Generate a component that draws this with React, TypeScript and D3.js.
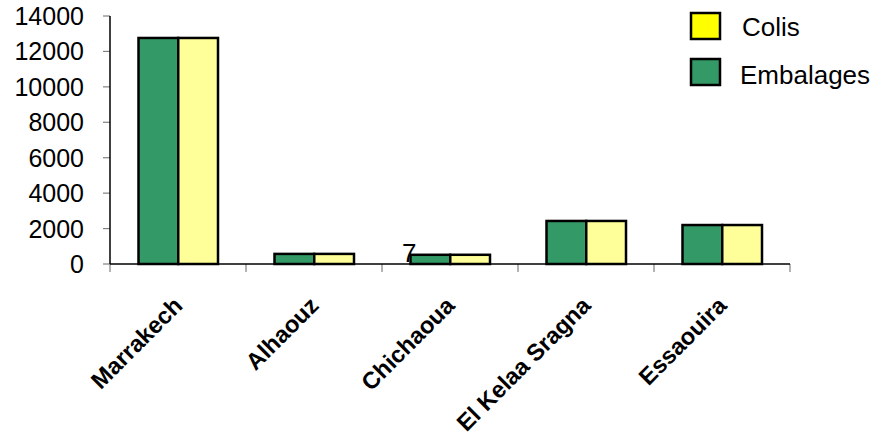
import React from "react";
import * as d3 from "d3";

const categories = ["Marrakech", "Alhaouz", "Chichaoua", "El Kelaa Sragna", "Essaouira"];
const embalages = [12760, 570, 520, 2430, 2200];
const colis = [12760, 570, 520, 2430, 2200];
const yTicks = [0, 2000, 4000, 6000, 8000, 10000, 12000, 14000];
const seriesNames = ["Embalages", "Colis"];
const legendNames = ["Colis", "Embalages"];
const strayLabel = { category: "Chichaoua", text: "7" };

const W = 877;
const H = 437;
const left = 110;
const right = 790;
const top = 16;
const bottom = 264;
const FONT = "'Liberation Sans', Arial, sans-serif";

const barColors: Record<string, string> = { Embalages: "#339966", Colis: "#FFFF99" };
const legendColors: Record<string, string> = { Colis: "#FFFF00", Embalages: "#339966" };

export default function App() {
  const x0 = d3.scaleBand<string>().domain(categories).range([left, right]).padding(0);
  const x1 = d3
    .scaleBand<string>()
    .domain(seriesNames)
    .range([28.5, x0.bandwidth() - 28])
    .padding(0);
  const y = d3.scaleLinear().domain([0, 14000]).range([bottom, top]);
  const values: Record<string, number[]> = { Embalages: embalages, Colis: colis };

  const boundaries = [...categories.map((c) => x0(c)!), right];

  return (
    <svg
      width={W}
      height={H}
      style={{ position: "absolute", left: 0, top: 0, background: "#fff" }}
      fontFamily={FONT}
    >
      {/* y ticks */}
      {yTicks.map((t) => (
        <g key={t}>
          <line x1={left - 7} x2={left} y1={y(t)} y2={y(t)} stroke="#808080" strokeWidth={1.2} />
          <text x={84} y={y(t)} dy="0.36em" textAnchor="end" fontSize={25} fill="#000">
            {t}
          </text>
        </g>
      ))}
      {/* x ticks */}
      {boundaries.map((b, i) => (
        <line key={i} x1={b} x2={b} y1={bottom} y2={bottom + 8} stroke="#808080" strokeWidth={1.2} />
      ))}
      {/* bars */}
      {categories.map((c, i) =>
        seriesNames.map((s) => {
          const v = values[s][i];
          const bx = x0(c)! + x1(s)!;
          return (
            <rect
              key={c + s}
              x={bx}
              y={y(v)}
              width={x1.bandwidth()}
              height={bottom - y(v)}
              fill={barColors[s]}
              stroke="#000"
              strokeWidth={2.5}
            />
          );
        })
      )}
      {/* axes */}
      <line x1={left} x2={left} y1={top} y2={bottom} stroke="#000" strokeWidth={1.5} />
      <line x1={left} x2={right} y1={bottom} y2={bottom} stroke="#000" strokeWidth={1.5} />
      {/* stray label */}
      <text
        x={x0(strayLabel.category)! + 20}
        y={bottom - 2}
        fontSize={26}
        fill="#000"
      >
        {strayLabel.text}
      </text>
      {/* category labels */}
      {categories.map((c) => {
        const cx = x0(c)! + x0.bandwidth() / 2 + 6;
        const cy = bottom + 43;
        return (
          <text
            key={c}
            transform={`translate(${cx},${cy}) rotate(-45)`}
            textAnchor="end"
            fontSize={23.5}
            fontWeight="bold"
            fill="#000"
          >
            {c}
          </text>
        );
      })}
      {/* legend */}
      {legendNames.map((n, i) => (
        <g key={n}>
          <rect x={691} y={13 + i * 46} width={29} height={26} fill={legendColors[n]} stroke="#000" strokeWidth={2.5} />
          <text x={n === "Colis" ? 742 : 740} y={36 + i * 48} fontSize={26} fill="#000">
            {n}
          </text>
        </g>
      ))}
    </svg>
  );
}
